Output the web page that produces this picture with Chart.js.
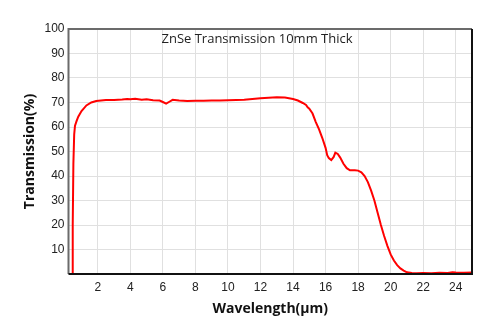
<!DOCTYPE html>
<html>
<head>
<meta charset="utf-8">
<script src="https://cdn.jsdelivr.net/npm/chart.js@4/dist/chart.umd.min.js"></script>
<style>
  html, body { margin: 0; padding: 0; background: #fff; }
  #wrap { width: 500px; height: 334px; }
</style>
</head>
<body>
<div id="wrap"><canvas id="spectrum"></canvas></div>
<script>
'use strict';

// wavelength (um) and transmission (%)
var wavelength = [0.2, 0.43, 0.46, 0.5, 0.55, 0.6, 0.7, 0.8, 1.0, 1.3, 1.6, 1.9, 2.5, 3.0, 3.5, 3.8,
  4.0, 4.3, 4.7, 5.0, 5.4, 5.8, 6.0, 6.2, 6.4, 6.6, 7.0, 7.5, 8.0, 8.5, 9.0, 9.5, 10.0, 10.5,
  11.0, 11.5, 12.0, 12.5, 13.0, 13.5, 14.0, 14.3, 14.6, 14.8, 14.9, 15.0, 15.2, 15.4, 15.6,
  15.8, 16.0, 16.1, 16.2, 16.35, 16.5, 16.6, 16.75, 16.9, 17.1, 17.3, 17.5, 17.8, 18.0, 18.2,
  18.4, 18.6, 18.8, 19.0, 19.2, 19.4, 19.6, 19.8, 20.0, 20.2, 20.4, 20.6, 20.8, 21.0, 21.3,
  21.6, 22.0, 22.5, 23.0, 23.5, 23.8, 24.0, 24.5, 25.0];
var transmission = [0, 0, 20, 45, 57, 60.5, 62.5, 64.2, 66.5, 68.8, 70.0, 70.6, 71.0, 71.0, 71.2, 71.4,
  71.3, 71.5, 71.1, 71.3, 70.9, 70.8, 70.2, 69.5, 70.3, 71.1, 70.8, 70.6, 70.7, 70.7, 70.8, 70.8, 70.9, 71.0,
  71.1, 71.4, 71.7, 71.9, 72.1, 72.0, 71.4, 70.8, 69.8, 69.0, 68.0, 67.5, 65.5, 62.0, 59.0,
  55.5, 51.5, 48.5, 47.3, 46.5, 47.8, 49.5, 49.0, 47.5, 45.0, 43.2, 42.3, 42.3, 42.2, 41.5,
  40.0, 37.5, 34.0, 30.0, 25.0, 20.0, 15.5, 11.5, 8.0, 5.5, 3.6, 2.3, 1.4, 0.7, 0.4,
  0.3, 0.4, 0.3, 0.5, 0.4, 0.7, 0.6, 0.5, 0.6];

var xTicks = [2, 4, 6, 8, 10, 12, 14, 16, 18, 20, 22, 24];
var yTicks = [0, 10, 20, 30, 40, 50, 60, 70, 80, 90, 100];

var points = [];
for (var i = 0; i < wavelength.length; i++) {
  points.push({ x: wavelength[i], y: transmission[i] });
}

// frame round the plot plus the title inside it
var framePlugin = {
  id: 'frame',
  afterDraw: function(chart) {
    var c = chart.ctx;
    var a = chart.chartArea;
    c.save();
    c.lineWidth = 2;
    c.strokeStyle = '#6b6b6b';
    c.beginPath();
    c.moveTo(a.left, a.bottom);
    c.lineTo(a.left, a.top);
    c.lineTo(a.right, a.top);
    c.stroke();
    c.strokeStyle = '#111';
    c.beginPath();
    c.moveTo(a.right, a.top);
    c.lineTo(a.right, a.bottom);
    c.lineTo(a.left, a.bottom);
    c.stroke();
    c.fillStyle = '#222';
    c.font = '13px "Open Sans"';
    c.textAlign = 'center';
    c.textBaseline = 'middle';
    c.fillText('ZnSe Transmission 10mm Thick', 257, 39);
    c.restore();
  }
};

var chart = new Chart(document.getElementById('spectrum'), {
  type: 'line',
  data: {
    datasets: [{
      data: points,
      borderColor: '#ff0000',
      borderWidth: 2,
      pointRadius: 0,
      tension: 0,
      fill: false,
    }],
  },
  options: {
    responsive: true,
    maintainAspectRatio: false,
    animation: false,
    layout: { padding: { left: 0, top: 29, right: 28, bottom: 0 } },
    plugins: { legend: { display: false }, tooltip: { enabled: false } },
    scales: {
      x: {
        type: 'linear',
        min: 0.2,
        max: 25,
        afterBuildTicks: function(scale) {
          scale.ticks = xTicks.map(function(v) { return { value: v }; });
        },
        afterFit: function(scale) { scale.height = 60; },
        grid: { color: '#e0e0e0', drawTicks: false },
        border: { display: false },
        ticks: { color: '#222', font: { family: 'Liberation Sans', size: 12 }, padding: 6, maxRotation: 0 },
        title: {
          display: true,
          text: 'Wavelength(\u03bcm)',
          color: '#111',
          font: { family: 'Open Sans', size: 14, weight: 'bold' },
          padding: { top: 0, bottom: 17 },
        },
      },
      y: {
        min: 0,
        max: 100,
        afterBuildTicks: function(scale) {
          scale.ticks = yTicks.map(function(v) { return { value: v }; });
        },
        afterFit: function(scale) { scale.width = 68.5; },
        grid: { color: '#e0e0e0', drawTicks: false },
        border: { display: false },
        ticks: {
          color: '#222',
          font: { family: 'Liberation Sans', size: 12 },
          padding: 4,
          callback: function(v) { return v === 0 ? '' : v; },
        },
        title: {
          display: true,
          text: 'Transmission(%)',
          color: '#111',
          font: { family: 'Open Sans', size: 14, weight: 'bold' },
          padding: { top: 22, bottom: 0 },
        },
      },
    },
  },
  plugins: [framePlugin],
});
</script>
</body>
</html>
